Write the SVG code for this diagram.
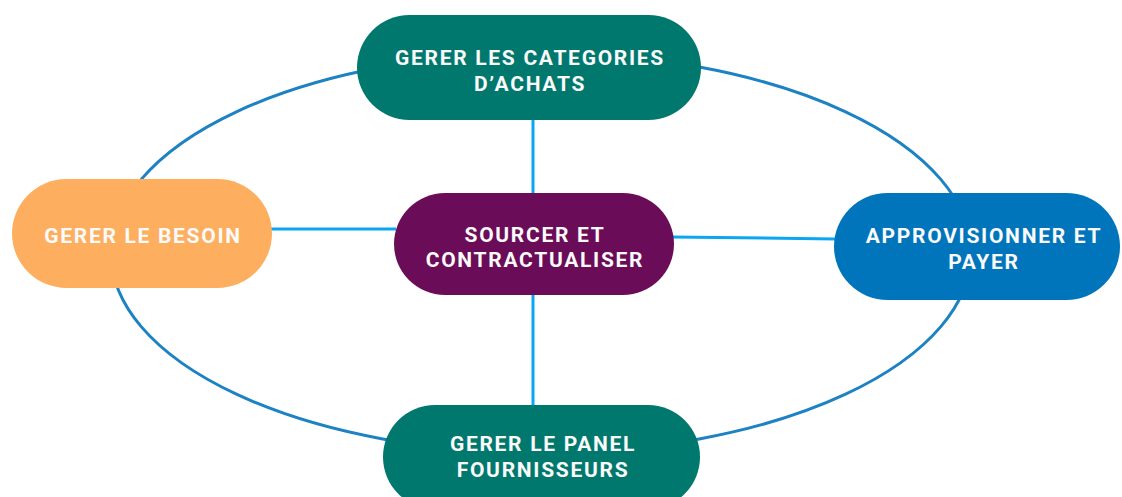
<svg xmlns="http://www.w3.org/2000/svg" width="1122" height="497" viewBox="0 0 1122 497">
<style>
.ring{fill:none;stroke:#1C82C4;stroke-width:3}
.link{stroke:#0AA6F2;stroke-width:3;fill:none}
.lbl{font-family:Roboto,"Liberation Sans",sans-serif;font-weight:bold;font-size:21px;letter-spacing:1.7px;fill:#FAFAFA;text-anchor:middle}
</style>
<rect width="1122" height="497" fill="#FFFFFF"/>
<g id="connectors">
<ellipse class="ring" cx="541" cy="253" rx="430" ry="200"/>
<line class="link" x1="533" y1="118" x2="533" y2="195"/>
<line class="link" x1="533" y1="293" x2="533" y2="407"/>
<line class="link" x1="270" y1="229" x2="396" y2="229"/>
<line class="link" x1="672" y1="237" x2="836" y2="239"/>
</g>
<g id="node-categories">
<rect x="357" y="15" width="344" height="105" rx="52.5" fill="#00786E"/>
<text class="lbl" x="530" y="65">GERER LES CATEGORIES</text>
<text class="lbl" x="530" y="91">D’ACHATS</text>
</g>
<g id="node-besoin">
<rect x="12" y="179" width="260" height="109" rx="54.5" fill="#FDAF5F"/>
<text class="lbl" x="143" y="243">GERER LE BESOIN</text>
</g>
<g id="node-sourcer">
<rect x="394" y="193" width="280" height="102" rx="51" fill="#6A0C57"/>
<text class="lbl" x="535" y="242">SOURCER ET</text>
<text class="lbl" x="535" y="267">CONTRACTUALISER</text>
</g>
<g id="node-approvisionner">
<rect x="834" y="193" width="286" height="107" rx="53.5" fill="#0075BB"/>
<text class="lbl" x="984" y="243">APPROVISIONNER ET</text>
<text class="lbl" x="984" y="269">PAYER</text>
</g>
<g id="node-panel">
<rect x="383" y="405" width="317" height="104" rx="52" fill="#00786E"/>
<text class="lbl" x="543" y="451">GERER LE PANEL</text>
<text class="lbl" x="543" y="477">FOURNISSEURS</text>
</g>
</svg>
